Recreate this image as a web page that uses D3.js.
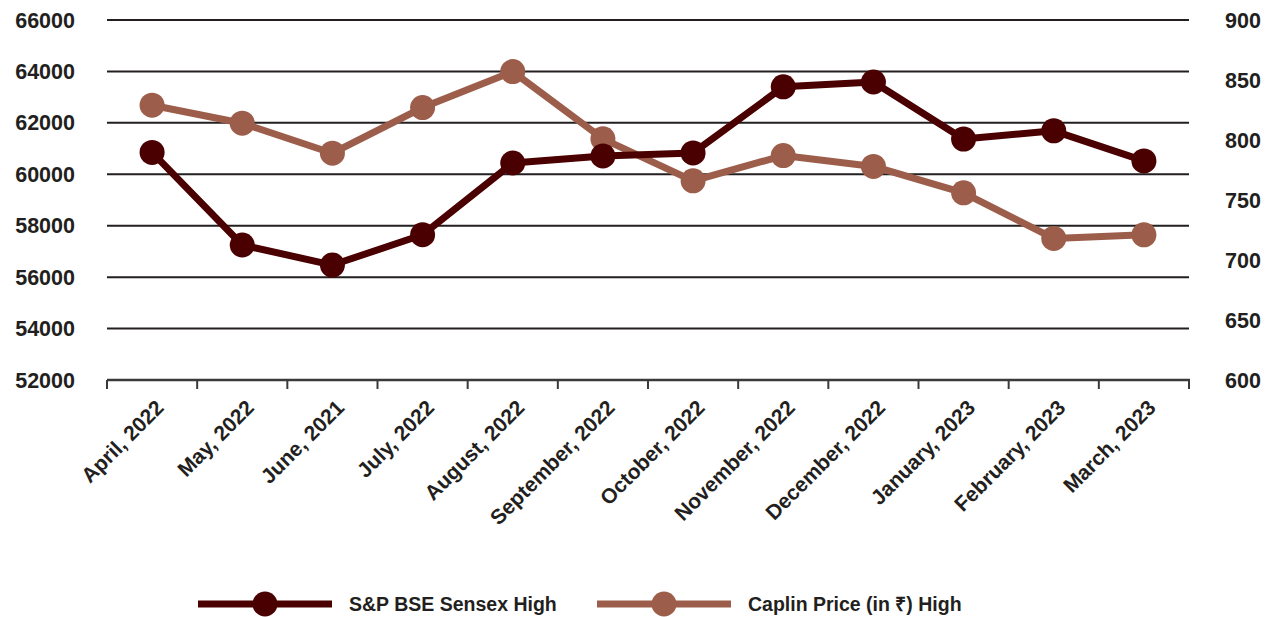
<!DOCTYPE html>
<html>
<head>
<meta charset="utf-8">
<script src="https://cdn.jsdelivr.net/npm/d3@7"></script>
<style>
  body { margin: 0; background: #fff; }
  text { font-family: "Liberation Sans", Arial, sans-serif; font-weight: bold; fill: #231f20; }
</style>
</head>
<body>
<script>
// categories and series
const months = ["April, 2022", "May, 2022", "June, 2021", "July, 2022", "August, 2022", "September, 2022",
  "October, 2022", "November, 2022", "December, 2022", "January, 2023", "February, 2023", "March, 2023"];
const sensexHigh = [60850, 57250, 56470, 57650, 60440, 60710, 60830, 63400, 63590, 61370, 61690, 60520];
const caplinHigh = [829, 814, 789, 827, 857, 801, 766, 787, 778, 756, 718, 721];
const leftTicks = [52000, 54000, 56000, 58000, 60000, 62000, 64000, 66000];
const rightTicks = [600, 650, 700, 750, 800, 850, 900];

const width = 1267, height = 617;
const margin = {left: 107, right: 1189, top: 20, bottom: 380};
const darkColor = "#4a0000", lightColor = "#9c5e4a";

const svg = d3.select("body").append("svg")
  .attr("width", width)
  .attr("height", height);

const x = d3.scaleBand().domain(months).range([margin.left, margin.right]);
const yLeft = d3.scaleLinear().domain([52000, 66000]).range([margin.bottom, margin.top]);
const yRight = d3.scaleLinear().domain([600, 900]).range([margin.bottom, margin.top]);

// gridlines
svg.selectAll(".grid")
  .data(leftTicks.slice(1))
  .join("line")
  .attr("x1", margin.left).attr("x2", margin.right)
  .attr("y1", d => yLeft(d)).attr("y2", d => yLeft(d))
  .attr("stroke", "#231f20").attr("stroke-width", 2);

// left labels
svg.selectAll(".ll")
  .data(leftTicks)
  .join("text")
  .attr("x", 75).attr("y", d => yLeft(d) + 7.5)
  .attr("text-anchor", "end")
  .attr("font-size", 21.5)
  .text(d => d);

// right labels
svg.selectAll(".rl")
  .data(rightTicks)
  .join("text")
  .attr("x", 1225).attr("y", d => yRight(d) + 7.5)
  .attr("font-size", 21.5)
  .text(d => d);

// x axis line + ticks
svg.append("line")
  .attr("x1", margin.left).attr("x2", margin.right + 1)
  .attr("y1", margin.bottom).attr("y2", margin.bottom)
  .attr("stroke", "#3a3a3a").attr("stroke-width", 2.5);

const tickPos = months.map(m => x(m)).concat([margin.right]);
svg.selectAll(".xt")
  .data(tickPos)
  .join("line")
  .attr("x1", d => d).attr("x2", d => d)
  .attr("y1", margin.bottom).attr("y2", margin.bottom + 9)
  .attr("stroke", "#3a3a3a").attr("stroke-width", 2);

// x labels
svg.selectAll(".xl")
  .data(months)
  .join("text")
  .attr("text-anchor", "end")
  .attr("font-size", 21)
  .attr("transform", d => `translate(${x(d) + x.bandwidth() / 2 + 13}, 409) rotate(-45)`)
  .text(d => d);

// series
const cx = d => x(d) + x.bandwidth() / 2;

function drawSeries(values, scale, color) {
  const pts = months.map((m, i) => [cx(m), scale(values[i])]);
  svg.append("path")
    .attr("d", d3.line()(pts))
    .attr("fill", "none")
    .attr("stroke", color)
    .attr("stroke-width", 7)
    .attr("stroke-linejoin", "round");
  svg.append("g").selectAll("circle")
    .data(pts)
    .join("circle")
    .attr("cx", d => d[0]).attr("cy", d => d[1])
    .attr("r", 12.5)
    .attr("fill", color);
}

drawSeries(caplinHigh, yRight, lightColor);
drawSeries(sensexHigh, yLeft, darkColor);

// legend
const legend = [
  {name: "S&P BSE Sensex High", color: darkColor, x: 198},
  {name: "Caplin Price (in ₹) High", color: lightColor, x: 597}
];
const lg = svg.selectAll(".lg")
  .data(legend)
  .join("g")
  .attr("transform", d => `translate(${d.x}, 604)`);
lg.append("line")
  .attr("x1", 0).attr("x2", 134)
  .attr("stroke", d => d.color).attr("stroke-width", 7);
lg.append("circle")
  .attr("cx", 67).attr("r", 12.5)
  .attr("fill", d => d.color);
lg.append("text")
  .attr("x", 151).attr("y", 7)
  .attr("font-size", 19.5)
  .text(d => d.name);
</script>
</body>
</html>
